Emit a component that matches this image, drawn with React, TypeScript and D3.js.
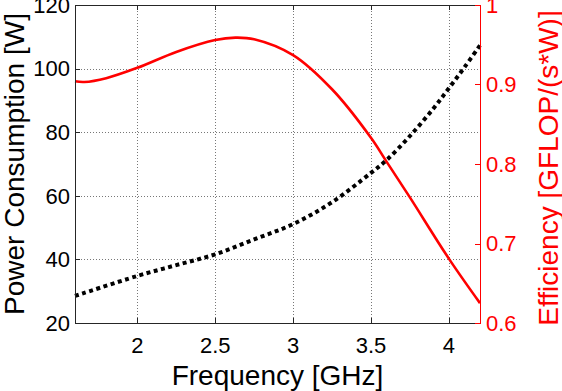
import React, { useRef, useEffect } from 'react';
import * as d3 from 'd3';

const effFreq = [1.6, 1.66, 1.8, 2.0, 2.25, 2.5, 2.63, 2.75, 3.0, 3.25, 3.5, 3.6, 3.75, 4.0, 4.2];
const efficiency = [0.904, 0.9032, 0.908, 0.921, 0.941, 0.956, 0.959, 0.957, 0.937, 0.894, 0.833, 0.803, 0.758, 0.681, 0.625];

const powFreq = [1.6, 2.0, 2.25, 2.5, 2.75, 3.0, 3.25, 3.5, 3.6, 3.75, 3.9, 4.0, 4.1, 4.2];
const power = [28.5, 34.8, 38.2, 41.6, 46.3, 51.1, 58.0, 67.2, 71.2, 78.8, 87.4, 93.8, 100.4, 107.3];

const xTicks = [2, 2.5, 3, 3.5, 4];
const leftTicks = [20, 40, 60, 80, 100, 120];
const rightTicks = [0.6, 0.7, 0.8, 0.9, 1];

const FONT = '"Liberation Sans", Arial, Helvetica, sans-serif';

const App = () => {
  const svgRef = useRef(null);

  useEffect(() => {
    const svg = d3.select(svgRef.current);
    const width = 562;
    const height = 391;
    const margin = { top: 5, right: 82, bottom: 68, left: 75 };
    const x0 = margin.left, x1 = width - margin.right;
    const y0 = height - margin.bottom, y1 = margin.top;

    svg.selectAll('*').remove();

    const x = d3.scaleLinear().domain([1.6, 4.2]).range([x0, x1]);
    const yL = d3.scaleLinear().domain([20, 120]).range([y0, y1]);
    const yR = d3.scaleLinear().domain([0.6, 1]).range([y0, y1]);

    // grid
    const grid = svg.append('g')
      .attr('stroke', '#777')
      .attr('stroke-width', 1)
      .attr('stroke-dasharray', '1,2');
    xTicks.forEach(t => {
      grid.append('line')
        .attr('x1', Math.round(x(t)) + 0.5).attr('x2', Math.round(x(t)) + 0.5)
        .attr('y1', y1).attr('y2', y0);
    });
    leftTicks.slice(1, -1).forEach(t => {
      grid.append('line')
        .attr('x1', x0).attr('x2', x1)
        .attr('y1', Math.round(yL(t)) + 0.5).attr('y2', Math.round(yL(t)) + 0.5);
    });

    // curves
    const effLine = d3.line()
      .x((d, i) => x(effFreq[i]))
      .y(d => yR(d))
      .curve(d3.curveCatmullRom.alpha(0.5));
    const powLine = d3.line()
      .x((d, i) => x(powFreq[i]))
      .y(d => yL(d))
      .curve(d3.curveCatmullRom.alpha(0.5));

    svg.append('path')
      .datum(power)
      .attr('fill', 'none')
      .attr('stroke', '#000')
      .attr('stroke-width', 4)
      .attr('stroke-dasharray', '4,3.5')
      .attr('d', powLine);

    svg.append('path')
      .datum(efficiency)
      .attr('fill', 'none')
      .attr('stroke', '#ff0000')
      .attr('stroke-width', 2.6)
      .attr('d', effLine);

    // axes box
    const tickLen = 5;
    const axisBlack = svg.append('g').attr('stroke', '#262626').attr('stroke-width', 1).attr('fill', 'none');
    axisBlack.append('path').attr('d', `M${x0 + 0.5},${y1 + 0.5}V${y0 + 0.5}H${x1}`);
    axisBlack.append('path').attr('d', `M${x0 + 0.5},${y1 + 0.5}H${x1}`);
    xTicks.forEach(t => {
      const px = Math.round(x(t)) + 0.5;
      axisBlack.append('line').attr('x1', px).attr('x2', px).attr('y1', y0).attr('y2', y0 - tickLen);
      axisBlack.append('line').attr('x1', px).attr('x2', px).attr('y1', y1).attr('y2', y1 + tickLen);
    });
    leftTicks.forEach(t => {
      const py = Math.round(yL(t)) + 0.5;
      axisBlack.append('line').attr('x1', x0).attr('x2', x0 + tickLen).attr('y1', py).attr('y2', py);
    });

    const axisRed = svg.append('g').attr('stroke', '#ff0000').attr('stroke-width', 1).attr('fill', 'none');
    axisRed.append('line').attr('x1', x1 + 0.5).attr('x2', x1 + 0.5).attr('y1', y1).attr('y2', y0 + 1);
    rightTicks.forEach(t => {
      const py = Math.round(yR(t)) + 0.5;
      axisRed.append('line').attr('x1', x1).attr('x2', x1 - tickLen).attr('y1', py).attr('y2', py);
    });

    // tick labels
    const txt = svg.append('g').attr('font-family', FONT).attr('font-size', 22);
    xTicks.forEach(t => {
      txt.append('text')
        .attr('x', x(t)).attr('y', y0 + 30)
        .attr('text-anchor', 'middle')
        .attr('fill', '#000')
        .text(d3.format('~g')(t));
    });
    leftTicks.forEach(t => {
      txt.append('text')
        .attr('x', x0 - 5).attr('y', yL(t)).attr('dy', '0.35em')
        .attr('text-anchor', 'end')
        .attr('fill', '#000')
        .text(t);
    });
    rightTicks.forEach(t => {
      txt.append('text')
        .attr('x', x1 + 6).attr('y', yR(t)).attr('dy', '0.35em')
        .attr('text-anchor', 'start')
        .attr('fill', '#ff0000')
        .text(d3.format('~g')(t));
    });

    // titles
    const titles = svg.append('g').attr('font-family', FONT).attr('font-size', 28);
    titles.append('text')
      .attr('x', (x0 + x1) / 2).attr('y', 385)
      .attr('text-anchor', 'middle')
      .attr('fill', '#000')
      .text('Frequency [GHz]');
    titles.append('text')
      .attr('transform', `translate(24,${(y0 + y1) / 2}) rotate(-90)`)
      .attr('text-anchor', 'middle')
      .attr('fill', '#000')
      .text('Power Consumption [W]');
    titles.append('text')
      .attr('transform', `translate(558,${(y0 + y1) / 2 + 4}) rotate(-90)`)
      .attr('text-anchor', 'middle')
      .attr('fill', '#ff0000')
      .text('Efficiency [GFLOP/(s*W)]');
  }, []);

  return (
    <svg
      ref={svgRef}
      width={562}
      height={391}
      style={{ position: 'fixed', left: 0, top: 0, background: '#fff' }}
    ></svg>
  );
};

export default App;
